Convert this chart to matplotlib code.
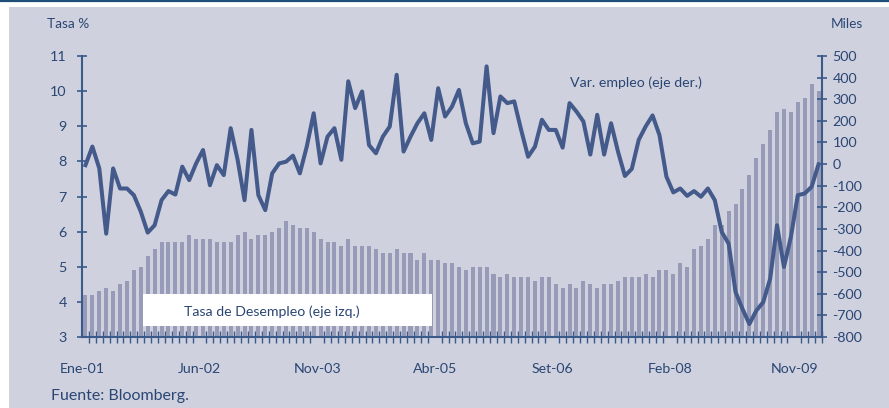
#!/usr/bin/env python3
import matplotlib

matplotlib.use("Agg")
import matplotlib.pyplot as plt
from matplotlib.lines import Line2D
from matplotlib.patches import Rectangle

# Tasa de desempleo EE.UU. (%), mensual Ene-01 .. Nov-09
tasa = [
    4.2, 4.2, 4.3, 4.4, 4.3, 4.5, 4.6, 4.9, 5.0, 5.3, 5.5, 5.7,
    5.7, 5.7, 5.7, 5.9, 5.8, 5.8, 5.8, 5.7, 5.7, 5.7, 5.9, 6.0,
    5.8, 5.9, 5.9, 6.0, 6.1, 6.3, 6.2, 6.1, 6.1, 6.0, 5.8, 5.7,
    5.7, 5.6, 5.8, 5.6, 5.6, 5.6, 5.5, 5.4, 5.4, 5.5, 5.4, 5.4,
    5.2, 5.4, 5.2, 5.2, 5.1, 5.1, 5.0, 4.9, 5.0, 5.0, 5.0, 4.8,
    4.7, 4.8, 4.7, 4.7, 4.7, 4.6, 4.7, 4.7, 4.5, 4.4, 4.5, 4.4,
    4.6, 4.5, 4.4, 4.5, 4.5, 4.6, 4.7, 4.7, 4.7, 4.8, 4.7, 4.9,
    4.9, 4.8, 5.1, 5.0, 5.5, 5.6, 5.8, 6.2, 6.2, 6.6, 6.8, 7.2,
    7.6, 8.1, 8.5, 8.9, 9.4, 9.5, 9.4, 9.7, 9.8, 10.2, 10.0,
]

# Variacion mensual del empleo (miles)
var_empleo = [
    -5, 81, -20, -322, -20, -113, -113, -144, -220, -317, -283, -167,
    -125, -141, -12, -74, 3, 65, -98, -5, -51, 166, 20, -167,
    158, -144, -213, -43, 3, 11, 39, -43, 81, 235, 3, 127,
    166, 20, 383, 259, 336, 88, 50, 127, 174, 413, 58, 127,
    189, 235, 112, 351, 220, 266, 343, 189, 96, 104, 452, 143,
    313, 282, 290, 158, 34, 81, 205, 158, 158, 76, 282, 243,
    197, 44, 228, 44, 189, 58, -55, -22, 112, 174, 225, 134,
    -58, -131, -113, -147, -125, -151, -113, -167, -314, -368, -592, -670,
    -740, -678, -639, -531, -283, -476, -337, -144, -136, -105, -1,
]

x_labels = ["Ene-01", "Jun-02", "Nov-03", "Abr-05", "Set-06", "Feb-08", "Nov-09"]
x_label_months = [0, 17, 34, 51, 68, 85, 103]

BG = "#CFD1DF"
BAR = "#989BB8"
LINE = "#445A8A"
TXT = "#2A4673"
AXC = "#3A5A8A"

plt.rcParams["font.family"] = ["Lato", "DejaVu Sans"]

fig = plt.figure(figsize=(8.89, 4.08), dpi=100, facecolor="white")
fig.add_artist(Rectangle((9 / 889, 0), 1, 1 - 7 / 408, transform=fig.transFigure,
                         facecolor=BG, edgecolor="none", zorder=0))
fig.add_artist(Line2D([0, 1], [1 - 1 / 408, 1 - 1 / 408], transform=fig.transFigure,
                      color="#1F4E79", linewidth=1.6))

ax = fig.add_axes([82 / 889, 1 - 337 / 408, 740 / 889, 281 / 408])
ax.set_facecolor("none")
months = list(range(len(tasa)))
ax.bar(months, [t - 3 for t in tasa], bottom=3, width=0.58, color=BAR, zorder=2)
ax.set_xlim(-0.5, len(tasa) - 0.5)
ax.set_ylim(3, 11)
ax.set_yticks(range(3, 12))
ax.set_xticks([m - 0.5 for m in x_label_months])
ax.set_xticklabels(x_labels)
ax.set_xticks([m - 0.5 for m in range(len(tasa) + 1)], minor=True)
ax.tick_params(axis="x", which="major", length=0, pad=19, labelsize=10.2, labelcolor=TXT)
ax.tick_params(axis="x", which="minor", direction="inout", length=8, width=1.0, color=AXC)
ax.tick_params(axis="y", direction="inout", length=7, width=1.2, color=AXC,
               labelsize=10.3, labelcolor=TXT, pad=7.5)
for side in ("top", "right"):
    ax.spines[side].set_visible(False)
for side in ("left", "bottom"):
    ax.spines[side].set_color(AXC)
    ax.spines[side].set_linewidth(1.5)

ax.add_patch(Rectangle((0.0824, 0.039), 0.3906, 0.114, transform=ax.transAxes,
                       facecolor="white", edgecolor="none", zorder=5))
ax.text(0.257, 0.09, "Tasa de Desempleo (eje izq.)", transform=ax.transAxes,
        ha="center", va="center", fontsize=10.2, color=TXT, zorder=6)

ax2 = ax.twinx()
ax2.plot(months, var_empleo, color=LINE, linewidth=2.9, zorder=3)
ax2.set_ylim(-800, 500)
ax2.set_yticks(range(-800, 501, 100))
ax2.set_yticklabels([str(v) for v in range(-800, 501, 100)])
ax2.tick_params(axis="y", direction="inout", length=7, width=1.2, color=AXC,
                labelsize=10.3, labelcolor=TXT, pad=4)
for side in ("top", "left", "bottom"):
    ax2.spines[side].set_visible(False)
ax2.spines["right"].set_color(AXC)
ax2.spines["right"].set_linewidth(1.5)
ax2.text(0.749, 0.904, "Var. empleo (eje der.)", transform=ax2.transAxes,
         ha="center", va="center", fontsize=10.2, color=TXT)

fig.text(47 / 889, 1 - 24 / 408, "Tasa %", ha="left", va="center", fontsize=9.8, color=TXT)
fig.text(831 / 889, 1 - 24 / 408, "Miles", ha="left", va="center", fontsize=9.8, color=TXT)
fig.text(51 / 889, 1 - 396 / 408, "Fuente: Bloomberg.", ha="left", va="center",
         fontsize=11.5, color=TXT)

fig.savefig("out.png", dpi=100, facecolor=fig.get_facecolor())
